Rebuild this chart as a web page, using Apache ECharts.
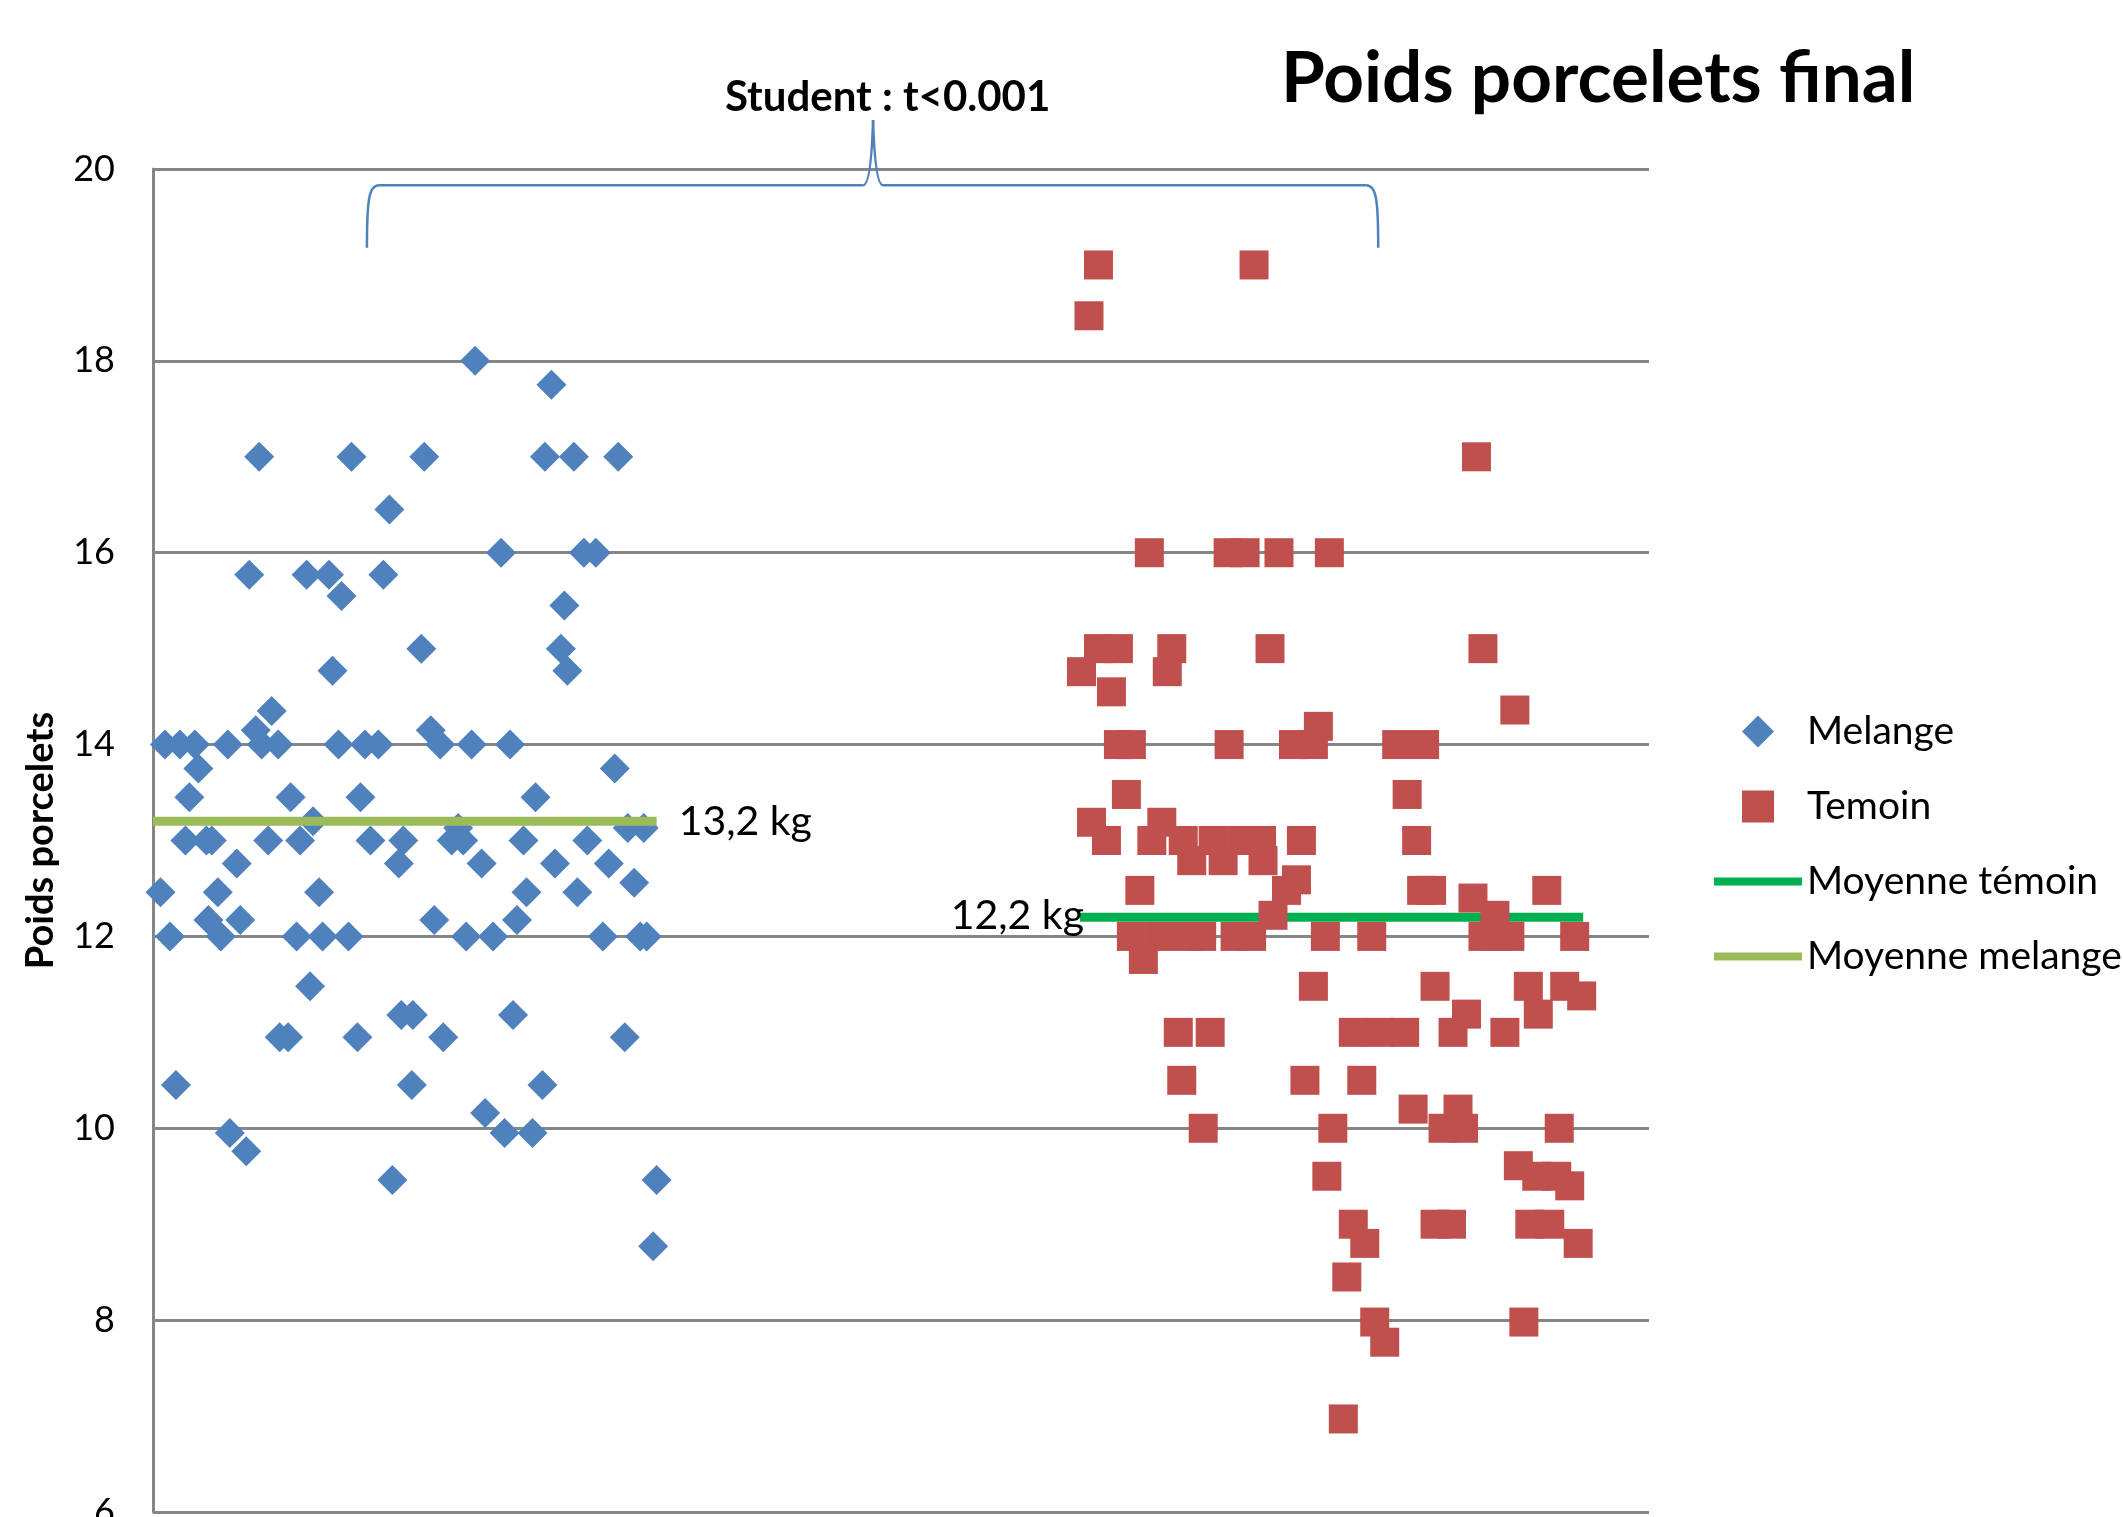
<!DOCTYPE html>
<html>
<head>
<meta charset="utf-8">
<title>Poids porcelets final</title>
<script src="https://cdn.jsdelivr.net/npm/echarts@6/dist/echarts.min.js"></script>
<style>
html, body { margin: 0; padding: 0; background: #fff; }
#chart { width: 2123px; height: 1517px; }
</style>
</head>
<body>
<div id="chart"></div>
<script>
var melangeX = [64.6, 79.9, 21.3, 39.8, 54.4, 78.6, 84.4, 93.3, 47.4,
  19.3, 30.8, 35.3, 46.2, 37.8, 69.8, 86.4, 88.8, 82.5,
  36.0, 53.8, 81.8, 83.1, 23.8, 20.6, 55.7,
  2.4, 5.4, 8.4, 15.0, 21.8, 25.1, 37.2, 42.5, 45.2, 57.6, 63.9, 71.6,
  9.1, 92.6,
  7.3, 27.6, 41.6, 76.7,
  32.1, 61.2, 95.2, 98.4,
  6.5, 10.7, 11.8, 23.1, 29.5, 43.6, 50.2, 59.9, 62.2, 74.3, 87.1,
  16.8, 49.3, 65.9, 80.6, 91.4, 96.5,
  1.5, 13.0, 33.3, 74.9, 85.1,
  11.1, 17.5, 56.4, 73.0,
  3.4, 13.6, 28.8, 34.0, 39.2, 62.8, 68.2, 90.2, 97.7, 99.0,
  31.5, 49.8, 52.1, 72.2,
  25.4, 27.1, 41.0, 58.2, 94.6,
  4.6, 51.9, 78.1, 66.6,
  15.4, 70.5, 76.1, 18.7,
  48.0, 101.0, 100.3];
var melangeY = [18, 17.75, 17, 17, 17, 17, 17, 17, 16.45,
  15.77, 15.77, 15.77, 15.77, 15.55, 16, 16, 16, 15.45,
  14.77, 15, 15, 14.77, 14.35, 14.15, 14.15,
  14, 14, 14, 14, 14, 14, 14, 14, 14, 14, 14, 14,
  13.75, 13.75,
  13.45, 13.45, 13.45, 13.45,
  13.2, 13.13, 13.13, 13.13,
  13, 13, 13, 13, 13, 13, 13, 13, 13, 13, 13,
  12.76, 12.76, 12.76, 12.76, 12.76, 12.56,
  12.46, 12.46, 12.46, 12.46, 12.46,
  12.17, 12.17, 12.17, 12.17,
  12, 12, 12, 12, 12, 12, 12, 12, 12, 12,
  11.48, 11.18, 11.18, 11.18,
  10.95, 10.95, 10.95, 10.95, 10.95,
  10.45, 10.45, 10.45, 10.16,
  9.95, 9.95, 9.95, 9.76,
  9.46, 9.46, 8.77];

var temoinX = [189.6, 220.8, 187.7, 265.4,
  199.8, 215.6, 219.0, 225.8, 235.9,
  189.6, 193.6, 204.3, 224.0, 266.7,
  186.2, 203.4, 192.2, 273.1, 233.7,
  193.6, 196.2, 215.8, 228.7, 232.7, 249.4, 255.0,
  195.2, 251.5, 188.2, 202.3,
  191.2, 200.3, 206.6, 212.6, 218.3, 222.3, 230.3, 253.4,
  208.3, 214.6, 222.6, 229.3,
  227.3, 197.9, 254.4, 256.4, 279.5, 264.7, 269.1, 224.6,
  196.2, 201.9, 207.6, 210.3, 217.0, 220.3, 235.1, 244.4, 266.7, 269.4, 272.1, 285.1,
  198.6, 232.7, 257.1, 275.8, 283.1, 286.5, 263.4, 277.8,
  205.6, 212.0, 240.7, 246.0, 251.0, 260.7, 271.1,
  206.3, 231.0, 242.4, 252.7, 261.7,
  210.6, 236.6, 258.7, 262.8, 282.0,
  273.8, 235.4, 277.5, 281.5, 284.1,
  240.7, 257.1, 260.4, 276.1, 280.1,
  243.0, 285.8, 239.4, 245.0, 274.9, 247.0, 238.7];
var temoinY = [19, 19, 18.47, 17,
  16, 16, 16, 16, 16,
  15, 15, 15, 15, 15,
  14.76, 14.76, 14.55, 14.36, 14.19,
  14, 14, 14, 14, 14, 14, 14,
  13.48, 13.48, 13.19, 13.19,
  13, 13, 13, 13, 13, 13, 13, 13,
  12.79, 12.79, 12.79, 12.59,
  12.48, 12.48, 12.48, 12.48, 12.48, 12.4, 12.22, 12.22,
  12, 12, 12, 12, 12, 12, 12, 12, 12, 12, 12, 12,
  11.76, 11.48, 11.48, 11.48, 11.48, 11.38, 11.19, 11.19,
  11, 11, 11, 11, 11, 11, 11,
  10.5, 10.5, 10.5, 10.2, 10.2,
  10, 10, 10, 10, 10,
  9.61, 9.5, 9.5, 9.5, 9.4,
  9, 9, 9, 9, 9,
  8.8, 8.8, 8.45, 7.98, 7.98, 7.77, 6.97];

var moyenneMelange = 13.2;
var moyenneMelangeX = [0, 101];
var moyenneTemoin = 12.2;
var moyenneTemoinX = [286.8, 185.9];   // reversed: the label sits at the left end

var yTicks = [6, 8, 10, 12, 14, 16, 18, 20];

var FONT = 'Lato';

function pairs(xs, ys) {
  var out = [];
  for (var i = 0; i < xs.length; i++) {
    out.push([xs[i], ys[i]]);
  }
  return out;
}

var chart = echarts.init(document.getElementById('chart'));

var option = {
  animation: false,
  backgroundColor: '#fff',
  title: [{
    text: 'Poids porcelets final',
    left: 1276,
    top: 39,
    textStyle: { fontFamily: FONT, fontWeight: 'bold', fontSize: 71, color: '#000' }
  }, {
    text: 'Student : t<0.001',
    left: 720,
    top: 71,
    textStyle: { fontFamily: FONT, fontWeight: 'bold', fontSize: 42, color: '#000' }
  }],
  legend: {
    orient: 'vertical',
    left: 1709,
    top: 707,
    itemWidth: 88,
    itemHeight: 32,
    itemGap: 36,
    symbolKeepAspect: true,
    data: [
      { name: 'Melange', icon: 'path://M0,-1L1,0L0,1L-1,0Z' },
      { name: 'Temoin', icon: 'path://M0,0L1,0L1,1L0,1Z' },
      { name: 'Moyenne témoin', icon: 'path://M0,0L88,0L88,8L0,8Z' },
      { name: 'Moyenne melange', icon: 'path://M0,0L88,0L88,8L0,8Z' }
    ],
    textStyle: { fontFamily: FONT, fontSize: 39, color: '#000' }
  },
  grid: {
    left: 153,
    right: 474,
    top: 169,
    bottom: 5,
    outerBoundsMode: 'none'
  },
  xAxis: {
    type: 'value',
    min: 0,
    max: 300,
    axisLine: { show: false },
    axisTick: { show: false },
    axisLabel: { show: false },
    splitLine: { show: false }
  },
  yAxis: {
    type: 'value',
    min: yTicks[0],
    max: yTicks[yTicks.length - 1],
    interval: 2,
    name: 'Poids porcelets',
    nameLocation: 'middle',
    nameRotate: 90,
    nameGap: 93,
    nameTextStyle: { fontFamily: FONT, fontWeight: 'bold', fontSize: 38, color: '#000' },
    axisLine: { show: true, lineStyle: { color: '#868686', width: 3 } },
    axisTick: { show: false },
    axisLabel: { fontFamily: FONT, fontSize: 36, color: '#000', margin: 38 },
    splitLine: { show: true, lineStyle: { color: '#868686', width: 3 } }
  },
  series: [{
    name: 'Melange',
    type: 'scatter',
    symbol: 'diamond',
    symbolSize: 30,
    z: 2,
    itemStyle: { color: '#4F81BD', opacity: 1 },
    data: pairs(melangeX, melangeY)
  }, {
    name: 'Moyenne melange',
    type: 'line',
    symbol: 'none',
    z: 3,
    lineStyle: { color: '#9BBB59', width: 9 },
    itemStyle: { color: '#9BBB59' },
    endLabel: {
      show: true,
      formatter: '13,2 kg',
      distance: 22,
      fontFamily: FONT,
      fontSize: 41,
      color: '#000'
    },
    data: pairs(moyenneMelangeX, [moyenneMelange, moyenneMelange])
  }, {
    name: 'Moyenne témoin',
    type: 'line',
    symbol: 'none',
    z: 3,
    lineStyle: { color: '#00B050', width: 9 },
    itemStyle: { color: '#00B050' },
    endLabel: {
      show: true,
      formatter: '12,2 kg',
      align: 'right',
      distance: 0,
      offset: [4, -1],
      fontFamily: FONT,
      fontSize: 41,
      color: '#000'
    },
    data: pairs(moyenneTemoinX, [moyenneTemoin, moyenneTemoin])
  }, {
    name: 'Temoin',
    type: 'scatter',
    symbol: 'rect',
    symbolSize: 29,
    z: 4,
    itemStyle: { color: '#C0504D', opacity: 1 },
    data: pairs(temoinX, temoinY)
  }]
};

chart.setOption(option);

// accolade du test de Student, placée dans le repère des données
var braceX = [42.9, 144.4, 245.7];
var braceY = [19.18, 19.83, 20.51];
var pl = chart.convertToPixel({ gridIndex: 0 }, [braceX[0], braceY[0]]);
var ph = chart.convertToPixel({ gridIndex: 0 }, [braceX[1], braceY[1]]);
var pp = chart.convertToPixel({ gridIndex: 0 }, [braceX[1], braceY[2]]);
var pr = chart.convertToPixel({ gridIndex: 0 }, [braceX[2], braceY[0]]);
var yb = pl[1], yh = ph[1], xl = pl[0], xm = ph[0], xr = pr[0], yp = pp[1];
var r = 12;
var braceStyle = { stroke: '#4F81BD', lineWidth: 2.5, fill: null };

chart.setOption({
  graphic: [{
    type: 'bezierCurve', z: 10, style: braceStyle,
    shape: { x1: xl, y1: yb, cpx1: xl, cpy1: yh + 14, cpx2: xl + 2, cpy2: yh, x2: xl + r, y2: yh }
  }, {
    type: 'line', z: 10, style: braceStyle,
    shape: { x1: xl + r, y1: yh, x2: xm - 10, y2: yh }
  }, {
    type: 'bezierCurve', z: 10, style: braceStyle,
    shape: { x1: xm - 10, y1: yh, cpx1: xm - 2, cpy1: yh, x2: xm, y2: yp }
  }, {
    type: 'bezierCurve', z: 10, style: braceStyle,
    shape: { x1: xm, y1: yp, cpx1: xm + 2, cpy1: yh, x2: xm + 10, y2: yh }
  }, {
    type: 'line', z: 10, style: braceStyle,
    shape: { x1: xm + 10, y1: yh, x2: xr - r, y2: yh }
  }, {
    type: 'bezierCurve', z: 10, style: braceStyle,
    shape: { x1: xr - r, y1: yh, cpx1: xr - 2, cpy1: yh, cpx2: xr, cpy2: yh + 14, x2: xr, y2: yb }
  }]
});
</script>
</body>
</html>
